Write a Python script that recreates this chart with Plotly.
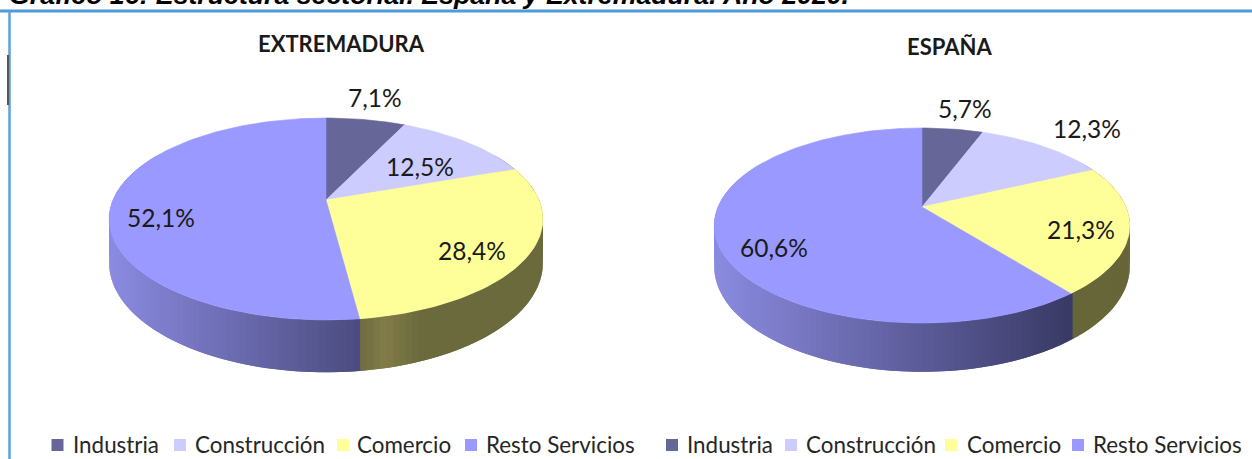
import math
import plotly.graph_objects as go

# ---- data ----
categories = ["Industria", "Construcción", "Comercio", "Resto Servicios"]
extremadura_values = [7.1, 12.5, 28.4, 52.1]
espana_values = [5.7, 12.3, 21.3, 60.6]
extremadura_labels = ["7,1%", "12,5%", "28,4%", "52,1%"]
espana_labels = ["5,7%", "12,3%", "21,3%", "60,6%"]
pie_titles = ["EXTREMADURA", "ESPAÑA"]
chart_title = "Gráfico 16: Estructura sectorial. España y Extremadura. Año 2020."

# ---- style ----
W, H = 1252, 459
top_colors = ["#666699", "#CCCCFF", "#FFFF99", "#9999FF"]
PIES = [
    dict(values=extremadura_values, labels=extremadura_labels, title=pie_titles[0], title_pos=(341, 43.5),
         cx=326, cy=200, rx=213, ry=97.4, k=0.188, wall=42.5,
         label_pos=[(374.5, 97), (419.5, 166), (471.5, 250), (161, 217)],
         resto=[(112, "#8a8ae0"), (358, "#4c4c80")],
         comercio=[(358, "#6d6a40"), (385, "#827c48"), (420, "#6a6a3d"), (545, "#6a6a3d")]),
    dict(values=espana_values, labels=espana_labels, title=pie_titles[1], title_pos=(949, 46.5),
         cx=922, cy=207, rx=204, ry=94, k=0.19, wall=39.5,
         label_pos=[(964.5, 108), (1086.5, 128), (1080.5, 229), (773.5, 247)],
         resto=[(716, "#8a8ae0"), (1068, "#3a3a66")],
         comercio=[(1060, "#666638"), (1135, "#666638")]),
]
LEGEND_POS = [
    [(57.5, 71), (180, 193), (343, 355), (471, 484)],
    [(672, 685), (791, 804), (951, 965), (1078, 1091)],
]
LEGEND_Y = 445
LABEL_FONT = "Lato"


def project(p, deg):
    a = math.radians(deg)
    u, v = math.sin(a), math.cos(a)
    w = 1 + p["k"] * v
    return p["cx"] + p["rx"] * u / w, p["cy"] - p["ry"] * v / w, w


def lerp_color(stops, x):
    if x <= stops[0][0]:
        return stops[0][1]
    for (x0, c0), (x1, c1) in zip(stops, stops[1:]):
        if x <= x1:
            t = (x - x0) / (x1 - x0)
            a = [int(c0[i:i + 2], 16) for i in (1, 3, 5)]
            b = [int(c1[i:i + 2], 16) for i in (1, 3, 5)]
            return "#%02x%02x%02x" % tuple(round(m + (n - m) * t) for m, n in zip(a, b))
    return stops[-1][1]


fig = go.Figure()


def add_poly(xs, ys, color, name, edge=0.6):
    fig.add_trace(go.Scatter(
        x=xs, y=ys, mode="lines", fill="toself", fillcolor=color,
        line=dict(color=color, width=edge), showlegend=False, name=name, hoverinfo="skip",
    ))


annotations = []
for p in PIES:
    total = sum(p["values"])
    edges = [0]
    for v in p["values"]:
        edges.append(edges[-1] + v / total * 360)
    # side wall: overlapping strips, so that no seam shows
    deg = 60.0
    step = 1.5
    while deg < 300:
        x0, y0, w0 = project(p, deg)
        x1, y1, w1 = project(p, deg + 2 * step)
        mid = deg + step / 2
        idx = next(i for i in range(4) if edges[i] <= mid < edges[i + 1] or i == 3)
        xm = project(p, mid)[0]
        if idx == 3:
            col = lerp_color(p["resto"], xm)
        elif idx == 2:
            col = lerp_color(p["comercio"], xm)
        else:
            col = "#5a5a7a"
        add_poly([x0, x1, x1, x0, x0],
                 [y0, y1, y1 + p["wall"] / w1, y0 + p["wall"] / w0, y0], col, categories[idx], edge=0)
        deg += step
    # top face
    for i, cat in enumerate(categories):
        a0, a1 = edges[i], edges[i + 1]
        n = max(4, int((a1 - a0) / 1.5))
        pts = [project(p, a0 + (a1 - a0) * j / n) for j in range(n + 1)]
        add_poly([p["cx"]] + [q[0] for q in pts] + [p["cx"]],
                 [p["cy"]] + [q[1] for q in pts] + [p["cy"]], top_colors[i], cat)
    for (lx, ly), text in zip(p["label_pos"], p["labels"]):
        annotations.append(dict(x=lx, y=ly, text=text, showarrow=False, xanchor="center", yanchor="middle",
                                font=dict(family=LABEL_FONT, size=24.5, color="#1a1a1a")))
    annotations.append(dict(x=p["title_pos"][0], y=p["title_pos"][1], text="<b>%s</b>" % p["title"],
                            showarrow=False, xanchor="center", yanchor="middle",
                            font=dict(family=LABEL_FONT, size=22, color="#1a1a1a")))

# legends
for group in LEGEND_POS:
    fig.add_trace(go.Scatter(
        x=[g[0] for g in group], y=[LEGEND_Y] * 4, mode="markers",
        marker=dict(symbol="square", size=12, color=top_colors, line=dict(width=0)),
        showlegend=False, text=categories, hoverinfo="text",
    ))
    for (mx, tx), cat in zip(group, categories):
        annotations.append(dict(x=tx, y=LEGEND_Y - 1, text=cat, showarrow=False, xanchor="left", yanchor="middle",
                                font=dict(family=LABEL_FONT, size=22.4, color="#262626")))

# caption, cut off at the top edge as in the reference
annotations.append(dict(x=7, y=7, text="<b><i>%s</i></b>" % chart_title, showarrow=False,
                        xanchor="left", yanchor="bottom", yshift=-5,
                        font=dict(family="Liberation Sans", size=26.7, color="#000000")))

shapes = [
    dict(type="line", x0=0, x1=W, y0=11, y1=11, line=dict(color="#4f9ad8", width=3)),
    dict(type="line", x0=9.5, x1=9.5, y0=11, y1=H, line=dict(color="#5ba0dc", width=2.5)),
    dict(type="line", x0=8, x1=8, y0=55, y1=105, line=dict(color="#555555", width=2)),
]

fig.update_layout(
    width=W, height=H, margin=dict(l=0, r=0, t=0, b=0),
    paper_bgcolor="white", plot_bgcolor="white", showlegend=False,
    xaxis=dict(range=[0, W], visible=False, fixedrange=True),
    yaxis=dict(range=[H, 0], visible=False, fixedrange=True),
    annotations=annotations, shapes=shapes,
)
fig.write_html("out.html", config=dict(displayModeBar=False),
               post_script="document.body.style.margin='0';document.body.style.overflow='hidden';")
